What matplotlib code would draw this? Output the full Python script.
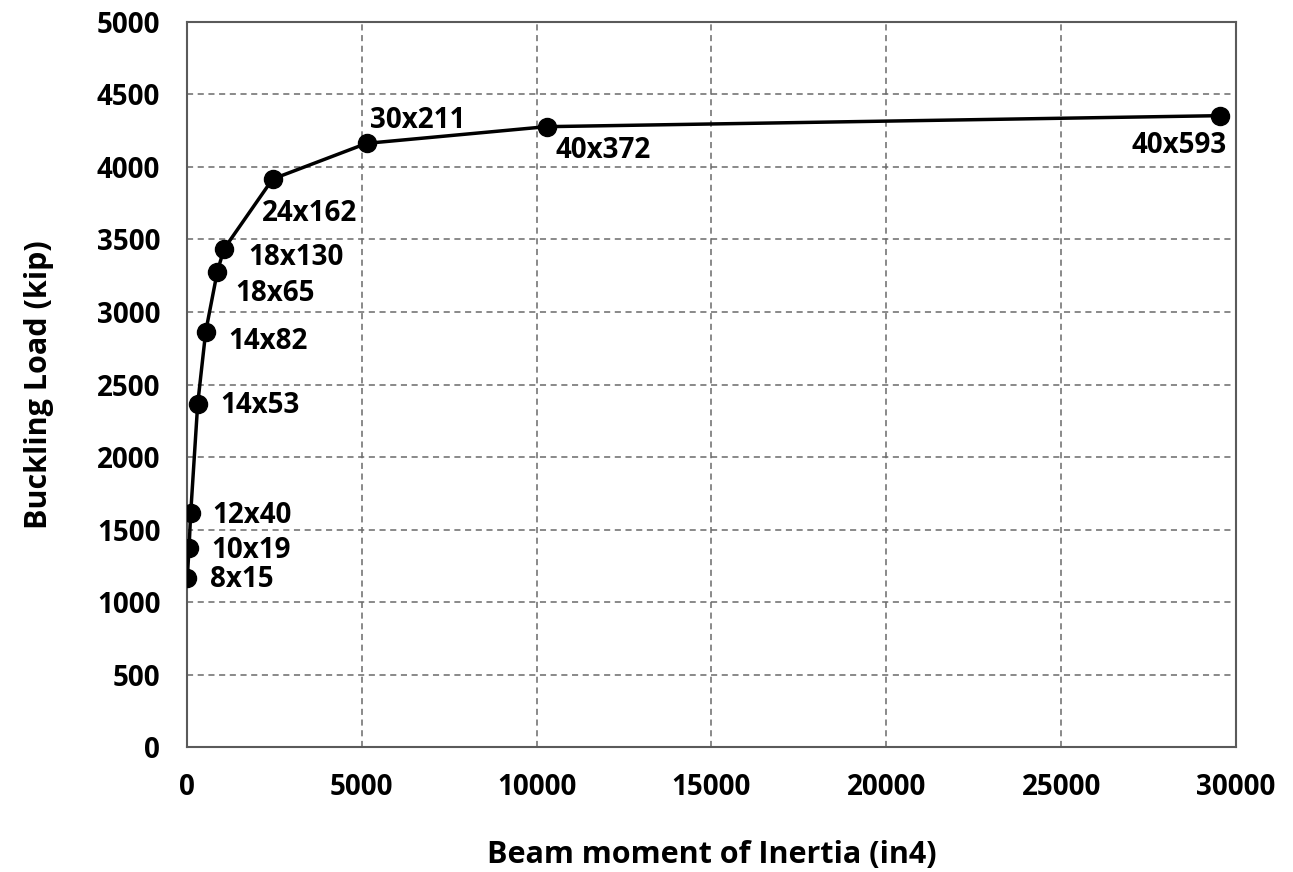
import matplotlib
matplotlib.use("Agg")
from matplotlib import pyplot as plt

# beam sections, moment of inertia (in4) and buckling load (kip)
sections = ['8x15', '10x19', '12x40', '14x53', '14x82', '18x65', '18x130',
            '24x162', '30x211', '40x372', '40x593']
inertia = [17, 66, 114, 314, 543, 875, 1066, 2457, 5143, 10286, 29543]
load = [1168, 1370, 1612, 2366, 2864, 3278, 3435, 3917, 4163, 4278, 4354]

# label offsets in pixels (dx, dy) and alignment
offsets = [(23, -2), (22, -2), (22, -2), (23, -2), (23, -10), (18, -22),
           (24, -9), (-11, -34), (3, 23), (9, -24), (7, -30)]
aligns = ['left'] * 10 + ['right']

plt.rcParams['font.family'] = ['Open Sans', 'DejaVu Sans']
plt.rcParams['font.weight'] = 'bold'

fig = plt.figure(figsize=(12.93, 8.72), dpi=100)
ax = fig.add_axes([0.1444, 0.1433, 0.8116, 0.8315])

ax.plot(inertia, load, color='black', linewidth=2.5, marker='o',
        markersize=13, zorder=3)

for name, x, y, (dx, dy), ha in zip(sections, inertia, load, offsets, aligns):
    ax.annotate(name, (x, y), xytext=(dx, dy), textcoords='offset pixels',
                ha=ha, va='center', fontsize=20, fontweight='bold')

ax.set_xlim(0, 30000)
ax.set_ylim(0, 5000)
ax.set_xticks(range(0, 30001, 5000))
ax.set_yticks(range(0, 5001, 500))
ax.grid(True, linestyle=(0, (4, 3)), color='#6a6a6a', linewidth=1.1)
ax.tick_params(length=0, labelsize=20, pad=19)
for lab in ax.get_xticklabels() + ax.get_yticklabels():
    lab.set_fontweight('bold')
for s in ax.spines.values():
    s.set_color('#5a5a5a')
    s.set_linewidth(1.5)

ax.set_xlabel('Beam moment of Inertia (in4)', fontsize=22, fontweight='bold',
              labelpad=27)
ax.set_ylabel('Buckling Load (kip)', fontsize=22, fontweight='bold',
              labelpad=31)

fig.savefig('out.png', dpi=100)
